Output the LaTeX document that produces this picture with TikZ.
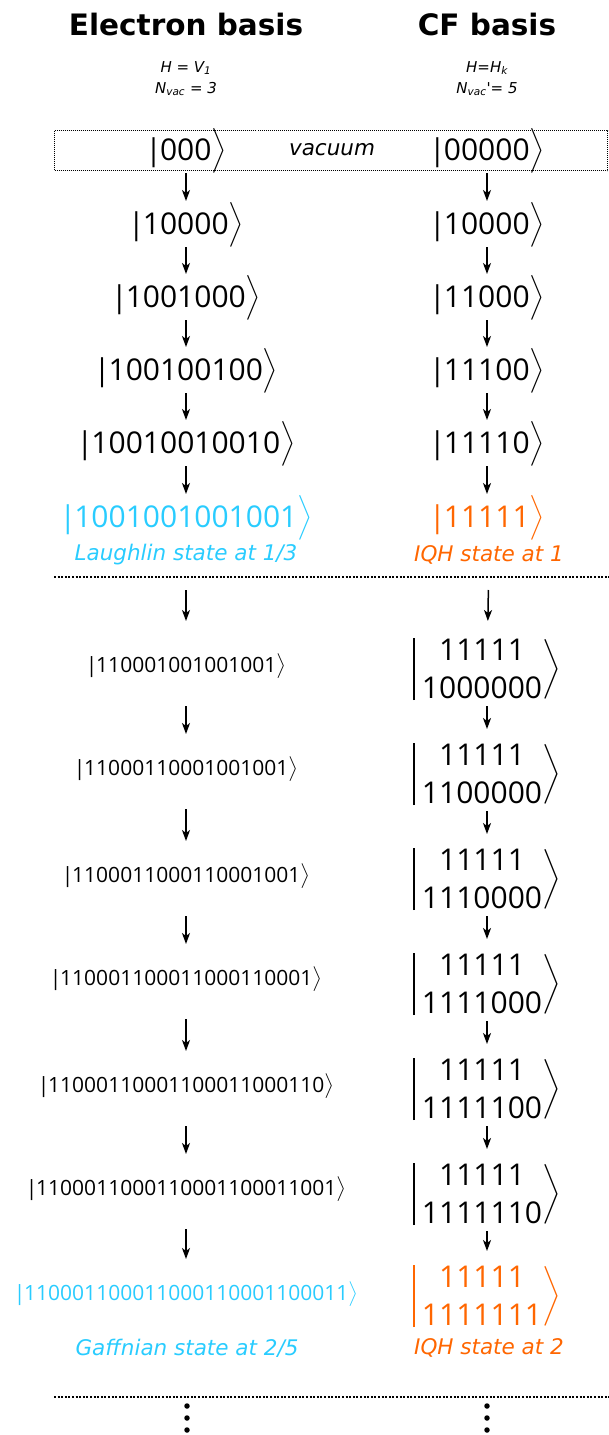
\RequirePackage{fix-cm}
\documentclass[tikz,border=0pt]{standalone}
\usepackage{amsmath}
\usepackage{fontspec}
\newfontfamily\kf{Open Sans}
\newfontfamily\lf{DejaVu Sans}
\usetikzlibrary{arrows.meta}
\definecolor{cy}{RGB}{41,204,255}
\definecolor{og}{RGB}{255,102,0}
\newcommand\kt[1]{|\kern-0.06em#1\raisebox{0.05em}{$\big\rangle$}}
\newcommand\cfk[2]{$\vcenter{\hbox{\vrule width 1.5pt height 31pt depth 31pt}}\kern1pt\left.\vcenter{\halign{\hfil##\hfil\cr#1\cr#2\cr}}\right\rangle$}
\tikzset{
  keta/.style={font=\kf\fontsize{30}{38}\selectfont, inner sep=0pt},
  ketb/.style={font=\kf\fontsize{21}{25}\selectfont, inner sep=0pt},
  lab/.style={font=\lf\itshape\fontsize{21.5}{26}\selectfont, inner sep=0pt},
  head/.style={font=\lf\bfseries\fontsize{29.5}{34}\selectfont, inner sep=0pt},
  hsub/.style={font=\lf\itshape\fontsize{15}{18}\selectfont, inner sep=0pt},
  arr/.style={-{Stealth[length=11pt,width=8pt,inset=3pt]}, line width=1.5pt},
  sepline/.style={line width=2pt, dash pattern=on 2pt off 1.6pt},
  boxd/.style={line width=1pt, dash pattern=on 1pt off 1pt},
  dot/.style={circle, fill=black, inner sep=0pt, minimum size=5.5pt},
}
\begin{document}
\begin{tikzpicture}[x=1pt,y=-1pt]
\useasboundingbox (0,0) rectangle (609,1435);
% headings
\node[head] (h1) at (186,25) {Electron basis};
\node[head] (h2) at (487,25) {CF basis};
\node[hsub] (s1) at (186,68) {H = V\textsubscript{1}};
\node[hsub] (s2) at (186,89) {N\textsubscript{vac} = 3};
\node[hsub] (s3) at (487,68) {H=H\textsubscript{k}};
\node[hsub] (s4) at (487,89) {N\textsubscript{vac}'= 5};
% vacuum box
\draw[boxd] (54.5,130.5) rectangle (607.5,170.5);
\node[keta] (L0) at (186,151) {\kt{000}};
\node[lab] (vac) at (332,150) {vacuum};
\node[keta] (R0) at (487,151) {\kt{00000}};
% upper section
\node[keta] (L1) at (186,225) {\kt{10000}};
\node[keta] (L2) at (186,298) {\kt{1001000}};
\node[keta] (L3) at (186,371) {\kt{100100100}};
\node[keta] (L4) at (186,444) {\kt{10010010010}};
\node[keta, text=cy] (L5) at (186,518) {\kt{1001001001001}};
\node[keta] (R1) at (487,225) {\kt{10000}};
\node[keta] (R2) at (487,298) {\kt{11000}};
\node[keta] (R3) at (487,371) {\kt{11100}};
\node[keta] (R4) at (487,444) {\kt{11110}};
\node[keta, text=og] (R5) at (487,518) {\kt{11111}};
\node[lab, text=cy] (lau) at (186,555) {Laughlin state at 1/3};
\node[lab, text=og] (iq1) at (489,555) {IQH state at 1};
\foreach \a/\b in {L0/L1,L1/L2,L2/L3,L3/L4,L4/L5,R0/R1,R1/R2,R2/R3,R3/R4,R4/R5}
  \draw[arr, shorten <=22pt, shorten >=24pt] (\a.center) -- (\b.center);
\coordinate (sa1) at (54,577);
\coordinate (sa2) at (609,577);
\draw[sepline] (sa1) -- (sa2);
% lower section
\node[ketb] (B1) at (186,666) {\kt{110001001001001}};
\node[ketb] (B2) at (186,769) {\kt{11000110001001001}};
\node[ketb] (B3) at (186,876) {\kt{1100011000110001001}};
\node[ketb] (B4) at (186,979) {\kt{110001100011000110001}};
\node[ketb] (B5) at (186,1086) {\kt{11000110001100011000110}};
\node[ketb] (B6) at (186,1189) {\kt{1100011000110001100011001}};
\node[ketb, text=cy] (B7) at (186,1294) {\kt{110001100011000110001100011}};
\node[keta] (C1) at (487,669) {\cfk{11111}{1000000}};
\node[keta] (C2) at (487,774) {\cfk{11111}{1100000}};
\node[keta] (C3) at (487,879) {\cfk{11111}{1110000}};
\node[keta] (C4) at (487,984) {\cfk{11111}{1111000}};
\node[keta] (C5) at (487,1089) {\cfk{11111}{1111100}};
\node[keta] (C6) at (487,1194) {\cfk{11111}{1111110}};
\node[keta, text=og] (C7) at (487,1296) {\cfk{11111}{1111111}};
\node[lab, text=cy] (gaf) at (187,1348) {Gaffnian state at 2/5};
\node[lab, text=og] (iq2) at (489,1348) {IQH state at 2};
\draw[arr, shorten <=35pt, shorten >=45pt] (lau.center) -- (B1.center);
\draw[arr, shorten <=35pt, shorten >=48pt] (iq1.center) -- (C1.center);
\foreach \a/\b in {B1/B2,B2/B3,B3/B4,B4/B5,B5/B6,B6/B7}
  \draw[arr, shorten <=40pt, shorten >=35pt] (\a.center) -- (\b.center);
\foreach \a/\b in {C1/C2,C2/C3,C3/C4,C4/C5,C5/C6,C6/C7}
  \draw[arr, shorten <=37pt, shorten >=45pt] (\a.center) -- (\b.center);
\coordinate (sb1) at (54,1397);
\coordinate (sb2) at (609,1397);
\draw[sepline] (sb1) -- (sb2);
\node[dot] (d1) at (187,1406) {};
\node[dot] (d2) at (187,1418) {};
\node[dot] (d3) at (187,1430) {};
\node[dot] (d4) at (487,1406) {};
\node[dot] (d5) at (487,1418) {};
\node[dot] (d6) at (487,1430) {};
\end{tikzpicture}
\end{document}
